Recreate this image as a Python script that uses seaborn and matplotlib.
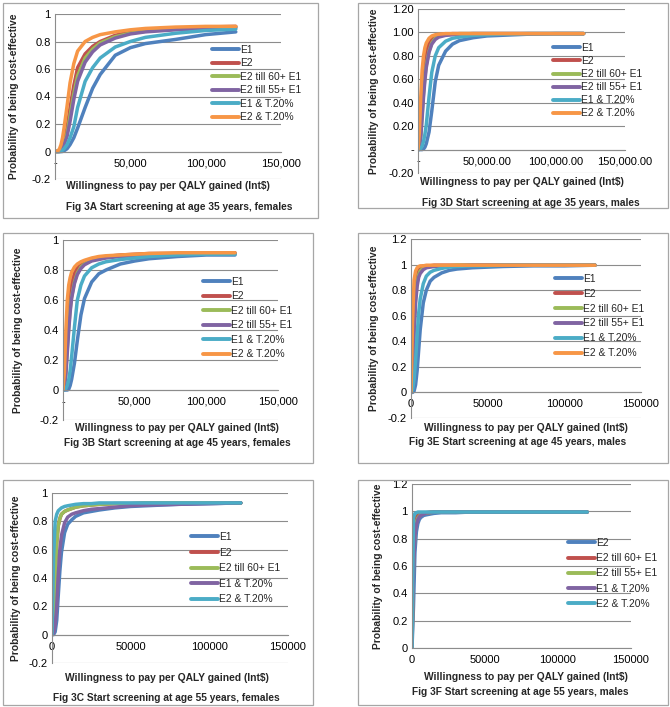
import numpy as np
import pandas as pd
import matplotlib
matplotlib.use("Agg")
import matplotlib.pyplot as plt
import seaborn as sns
from matplotlib.patches import Rectangle

sns.set_style("white")
plt.rcParams["font.family"] = ["Liberation Sans", "DejaVu Sans"]

# ---------------- data ----------------
WTP = [0, 1000, 2000, 3000, 4000, 5000, 6000, 8000, 10000, 12500, 15000,
       20000, 25000, 30000, 40000, 50000, 60000, 80000, 100000, 120000]

NAMES6 = ["E1", "E2", "E2 till 60+ E1", "E2 till 55+ E1", "E1 & T.20%", "E2 & T.20%"]
NAMES_C = ["E1", "E2", "E2 till 60+ E1", "E1 & T.20%", "E2 & T.20%"]
NAMES_F = ["E2", "E2 till 60+ E1", "E2 till 55+ E1", "E1 & T.20%", "E2 & T.20%"]

# Fig 3A  age 35 females
A_E1   = [0, 0, 0, 0, 0, 0, 0.005, 0.02, 0.05, 0.10, 0.17, 0.32, 0.46, 0.56, 0.70, 0.755, 0.785, 0.815, 0.85, 0.87]
A_E2   = [0, 0, 0, 0.005, 0.02, 0.04, 0.08, 0.17, 0.32, 0.48, 0.61, 0.71, 0.765, 0.80, 0.845, 0.87, 0.88, 0.895, 0.905, 0.91]
A_E260 = [0, 0, 0, 0, 0.01, 0.03, 0.06, 0.13, 0.26, 0.42, 0.55, 0.68, 0.745, 0.79, 0.835, 0.86, 0.875, 0.89, 0.90, 0.905]
A_E255 = [0, 0, 0, 0, 0.01, 0.025, 0.05, 0.11, 0.22, 0.38, 0.51, 0.65, 0.725, 0.775, 0.825, 0.855, 0.87, 0.885, 0.895, 0.90]
A_E1T  = [0, 0, 0, 0, 0, 0.01, 0.02, 0.05, 0.10, 0.18, 0.32, 0.51, 0.61, 0.68, 0.76, 0.80, 0.83, 0.86, 0.88, 0.89]
A_E2T  = [0, 0, 0.005, 0.02, 0.05, 0.10, 0.17, 0.33, 0.50, 0.64, 0.73, 0.80, 0.83, 0.85, 0.87, 0.885, 0.895, 0.905, 0.91, 0.91]

# Fig 3D  age 35 males
D_E1   = [0, 0, 0, 0, 0.005, 0.02, 0.05, 0.15, 0.33, 0.58, 0.72, 0.84, 0.90, 0.93, 0.955, 0.97, 0.975, 0.985, 0.99, 0.99]
D_E2   = [0, 0.05, 0.25, 0.48, 0.65, 0.76, 0.83, 0.91, 0.95, 0.97, 0.98, 0.985, 0.99, 0.99, 0.99, 0.99, 0.99, 0.99, 0.99, 0.99]
D_E260 = [0, 0.02, 0.12, 0.30, 0.48, 0.62, 0.72, 0.84, 0.91, 0.95, 0.97, 0.98, 0.985, 0.99, 0.99, 0.99, 0.99, 0.99, 0.99, 0.99]
D_E255 = [0, 0.01, 0.10, 0.27, 0.45, 0.59, 0.70, 0.83, 0.90, 0.94, 0.96, 0.975, 0.98, 0.985, 0.99, 0.99, 0.99, 0.99, 0.99, 0.99]
D_E1T  = [0, 0, 0.01, 0.03, 0.07, 0.13, 0.21, 0.45, 0.66, 0.80, 0.87, 0.925, 0.95, 0.96, 0.975, 0.98, 0.985, 0.99, 0.99, 0.99]
D_E2T  = [0, 0.15, 0.45, 0.68, 0.80, 0.87, 0.91, 0.95, 0.97, 0.98, 0.985, 0.99, 0.99, 0.99, 0.99, 0.99, 0.99, 0.99, 0.99, 0.99]

# Fig 3B  age 45 females
B_E1   = [0, 0, 0, 0, 0.005, 0.03, 0.07, 0.18, 0.33, 0.50, 0.61, 0.72, 0.775, 0.80, 0.84, 0.86, 0.875, 0.89, 0.90, 0.90]
B_E2   = [0, 0.05, 0.22, 0.42, 0.56, 0.65, 0.71, 0.78, 0.815, 0.84, 0.855, 0.875, 0.885, 0.89, 0.90, 0.905, 0.91, 0.91, 0.915, 0.915]
B_E260 = [0, 0.02, 0.12, 0.28, 0.42, 0.54, 0.62, 0.72, 0.78, 0.82, 0.84, 0.865, 0.875, 0.885, 0.895, 0.90, 0.905, 0.91, 0.91, 0.91]
B_E255 = [0, 0.02, 0.10, 0.25, 0.40, 0.52, 0.61, 0.71, 0.77, 0.81, 0.835, 0.86, 0.87, 0.88, 0.89, 0.895, 0.90, 0.905, 0.91, 0.91]
B_E1T  = [0, 0, 0.01, 0.03, 0.07, 0.13, 0.22, 0.42, 0.60, 0.70, 0.76, 0.815, 0.84, 0.855, 0.87, 0.88, 0.89, 0.90, 0.905, 0.905]
B_E2T  = [0, 0.12, 0.40, 0.60, 0.70, 0.75, 0.785, 0.82, 0.84, 0.855, 0.865, 0.88, 0.89, 0.895, 0.90, 0.905, 0.91, 0.915, 0.915, 0.915]

# Fig 3E  age 45 males
E_E1   = [0, 0, 0.01, 0.06, 0.17, 0.33, 0.49, 0.70, 0.80, 0.87, 0.90, 0.935, 0.955, 0.965, 0.975, 0.98, 0.985, 0.99, 0.99, 0.995]
E_E2   = [0, 0.35, 0.75, 0.90, 0.95, 0.97, 0.98, 0.99, 0.99, 0.99, 0.995, 0.995, 0.995, 0.995, 0.995, 0.995, 0.995, 0.995, 0.995, 0.995]
E_E260 = [0, 0.15, 0.50, 0.74, 0.86, 0.92, 0.95, 0.97, 0.98, 0.985, 0.99, 0.99, 0.99, 0.995, 0.995, 0.995, 0.995, 0.995, 0.995, 0.995]
E_E255 = [0, 0.12, 0.45, 0.70, 0.83, 0.90, 0.93, 0.96, 0.975, 0.98, 0.985, 0.99, 0.99, 0.99, 0.995, 0.995, 0.995, 0.995, 0.995, 0.995]
E_E1T  = [0, 0.02, 0.10, 0.25, 0.45, 0.62, 0.73, 0.85, 0.91, 0.94, 0.955, 0.97, 0.98, 0.985, 0.99, 0.99, 0.995, 0.995, 0.995, 0.995]
E_E2T  = [0, 0.55, 0.88, 0.95, 0.975, 0.985, 0.99, 0.99, 0.995, 0.995, 0.995, 0.995, 0.995, 0.995, 0.995, 0.995, 0.995, 0.995, 0.995, 0.995]

# Fig 3C  age 55 females
C_E1   = [0, 0, 0.02, 0.10, 0.28, 0.45, 0.58, 0.72, 0.78, 0.81, 0.835, 0.86, 0.87, 0.88, 0.895, 0.905, 0.91, 0.92, 0.925, 0.93]
C_E2   = [0, 0.10, 0.40, 0.65, 0.77, 0.82, 0.85, 0.87, 0.88, 0.89, 0.90, 0.91, 0.915, 0.92, 0.925, 0.925, 0.93, 0.93, 0.93, 0.93]
C_E260 = [0, 0.10, 0.40, 0.65, 0.77, 0.82, 0.85, 0.87, 0.88, 0.89, 0.90, 0.91, 0.915, 0.92, 0.925, 0.925, 0.93, 0.93, 0.93, 0.93]
C_E1T  = [0, 0.01, 0.06, 0.20, 0.42, 0.60, 0.70, 0.79, 0.83, 0.85, 0.86, 0.875, 0.885, 0.89, 0.90, 0.91, 0.915, 0.92, 0.925, 0.93]
C_E2T  = [0, 0.55, 0.80, 0.85, 0.875, 0.885, 0.895, 0.905, 0.91, 0.915, 0.92, 0.925, 0.925, 0.93, 0.93, 0.93, 0.93, 0.93, 0.93, 0.93]

# Fig 3F  age 55 males
F_E2   = [0, 0.30, 0.70, 0.85, 0.91, 0.94, 0.955, 0.97, 0.975, 0.98, 0.985, 0.99, 0.99, 0.99, 0.995, 0.995, 0.995, 0.995, 0.995, 0.995]
F_E260 = [0, 0.80, 0.93, 0.96, 0.975, 0.98, 0.985, 0.99, 0.99, 0.995, 0.995, 0.995, 0.995, 0.995, 0.995, 0.995, 0.995, 0.995, 0.995, 0.995]
F_E255 = [0, 0.60, 0.85, 0.92, 0.95, 0.965, 0.975, 0.985, 0.99, 0.99, 0.995, 0.995, 0.995, 0.995, 0.995, 0.995, 0.995, 0.995, 0.995, 0.995]
F_E1T  = [0, 0.55, 0.82, 0.90, 0.94, 0.96, 0.97, 0.98, 0.99, 0.99, 0.995, 0.995, 0.995, 0.995, 0.995, 0.995, 0.995, 0.995, 0.995, 0.995]
F_E2T  = [0, 0.95, 0.985, 0.99, 0.995, 0.995, 0.995, 0.995, 0.995, 0.995, 0.995, 0.995, 0.995, 0.995, 0.995, 0.995, 0.995, 0.995, 0.995, 0.995]

# tick labels
X_TICKS = [0, 50000, 100000, 150000]
XL_COMMA = ["-", "50,000", "100,000", "150,000"]
XL_DEC = ["-", "50,000.00", "100,000.00", "150,000.00"]
XL_PLAIN = ["0", "50000", "100000", "150000"]
Y_1 = [-0.2, 0, 0.2, 0.4, 0.6, 0.8, 1.0]
YL_1 = ["-0.2", "0", "0.2", "0.4", "0.6", "0.8", "1"]
Y_12 = [-0.2, 0, 0.2, 0.4, 0.6, 0.8, 1.0, 1.2]
YL_12 = ["-0.2", "0", "0.2", "0.4", "0.6", "0.8", "1", "1.2"]
YL_12D = ["-0.20", "-", "0.20", "0.40", "0.60", "0.80", "1.00", "1.20"]
Y_F = [0, 0.2, 0.4, 0.6, 0.8, 1.0, 1.2]
YL_F = ["0", "0.2", "0.4", "0.6", "0.8", "1", "1.2"]

CAPTIONS = ["Fig 3A Start screening at age 35 years, females",
            "Fig 3D Start screening at age 35 years, males",
            "Fig 3B Start screening at age 45 years, females",
            "Fig 3E Start screening at age 45 years, males",
            "Fig 3C Start screening at age 55 years, females",
            "Fig 3F Start screening at age 55 years, males"]

XLABEL = "Willingness to pay per QALY gained (Int$)"
YLABEL = "Probability of being cost-effective"

BLUE, RED, GREEN, PURPLE, CYAN, ORANGE = "#4F81BD", "#C0504D", "#9BBB59", "#8064A2", "#4BACC6", "#F79646"
COL6 = [BLUE, RED, GREEN, PURPLE, CYAN, ORANGE]
COL5 = [BLUE, RED, GREEN, PURPLE, CYAN]

# ---------------- layout (pixels) ----------------
W, H = 670, 707
fig = plt.figure(figsize=(6.7, 7.07), dpi=100)
fig.patch.set_facecolor("white")

def fx(px):
    return px / W

def fy(py):
    return 1 - py / H

GRAY = "#8C8C8C"
FS_TICK = 8.0
FS_LEG = 7.4
FS_LAB = 7.4
FS_CAP = 7.3

panels = [
    dict(names=NAMES6, cols=COL6, series=[A_E1, A_E2, A_E260, A_E255, A_E1T, A_E2T],
         ax=(55, 14, 281, 179), ylim=(-0.2, 1.0), yt=Y_1, ytl=YL_1, xtl=XL_COMMA,
         leg=(212, 45), ls=0.34, ylx=14, xl=(168, 186), cap=(179, 207), box=(3, 3, 318, 218)),
    dict(names=NAMES6, cols=COL6, series=[D_E1, D_E2, D_E260, D_E255, D_E1T, D_E2T],
         ax=(418, 9, 625, 173), ylim=(-0.2, 1.2), yt=Y_12, ytl=YL_12D, xtl=XL_DEC,
         leg=(553, 43), ls=0.30, ylx=374, xl=(522, 182), cap=(531, 203), box=(358, 3, 668, 208)),
    dict(names=NAMES6, cols=COL6, series=[B_E1, B_E2, B_E260, B_E255, B_E1T, B_E2T],
         ax=(63, 240, 278, 420), ylim=(-0.2, 1.0), yt=Y_1, ytl=YL_1, xtl=XL_COMMA,
         leg=(203, 277), ls=0.43, ylx=18, xl=(177, 428), cap=(177, 443), box=(3, 233, 313, 463)),
    dict(names=NAMES6, cols=COL6, series=[E_E1, E_E2, E_E260, E_E255, E_E1T, E_E2T],
         ax=(411, 239, 641, 418), ylim=(-0.2, 1.2), yt=Y_12, ytl=YL_12, xtl=XL_PLAIN,
         leg=(555, 274), ls=0.47, ylx=374, xl=(526, 428), cap=(518, 442), box=(358, 233, 668, 463)),
    dict(names=NAMES_C, cols=COL5, series=[C_E1, C_E2, C_E260, C_E1T, C_E2T],
         ax=(52, 493, 288, 663), ylim=(-0.2, 1.0), yt=Y_1, ytl=YL_1, xtl=XL_PLAIN,
         leg=(191, 532), ls=0.54, ylx=16, xl=(167, 678), cap=(166, 698), box=(3, 480, 313, 705)),
    dict(names=NAMES_F, cols=COL5, series=[F_E2, F_E260, F_E255, F_E1T, F_E2T],
         ax=(412, 484, 631, 648), ylim=(0, 1.2), yt=Y_F, ytl=YL_F, xtl=XL_PLAIN,
         leg=(568, 538), ls=0.51, ylx=378, xl=(526, 677), cap=(520, 692), box=(358, 480, 668, 705)),
]

for i, p in enumerate(panels):
    l, t, r, b = p["ax"]
    ax = fig.add_axes([fx(l), fy(b), (r - l) / W, (b - t) / H])
    rows = []
    for name, vals in zip(p["names"], p["series"]):
        for x, y in zip(WTP, vals):
            rows.append((name, x, y))
    df = pd.DataFrame(rows, columns=["strategy", "wtp", "prob"])
    sns.lineplot(data=df, x="wtp", y="prob", hue="strategy", hue_order=p["names"],
                 palette=dict(zip(p["names"], p["cols"])), linewidth=2.5,
                 estimator=None, sort=False, ax=ax, legend=True)
    for ln in ax.get_lines():
        ln.set_solid_capstyle("round")
        ln.set_solid_joinstyle("round")
    ax.set_xlim(0, 150000)
    ax.set_ylim(*p["ylim"])
    ax.set_xticks(X_TICKS)
    ax.set_xticklabels(p["xtl"])
    ax.set_yticks(p["yt"])
    ax.set_yticklabels(p["ytl"])
    ax.set_xlabel("")
    ax.set_ylabel("")
    ax.yaxis.grid(True, color=GRAY, linewidth=0.8)
    ax.xaxis.grid(False)
    ax.set_axisbelow(True)
    for s in ("top", "right"):
        ax.spines[s].set_visible(False)
    ax.spines["left"].set_color(GRAY)
    ax.spines["left"].set_linewidth(0.8)
    ax.spines["bottom"].set_color(GRAY)
    ax.spines["bottom"].set_linewidth(0.8)
    ax.spines["bottom"].set_position(("data", 0))
    ax.tick_params(axis="x", length=2.5, width=0.8, color=GRAY, direction="out",
                   labelsize=FS_TICK, pad=2.5, labelcolor="black")
    ax.tick_params(axis="y", length=0, labelsize=FS_TICK, pad=3, labelcolor="black")

    handles, labels = ax.get_legend_handles_labels()
    leg = ax.legend(handles, labels, loc="upper left",
                    bbox_to_anchor=(fx(p["leg"][0]), fy(p["leg"][1])),
                    bbox_transform=fig.transFigure, frameon=False, fontsize=FS_LEG,
                    handlelength=2.6, handletextpad=0.15, labelspacing=p["ls"],
                    borderpad=0, borderaxespad=0)
    for h in leg.get_lines():
        h.set_linewidth(2.8)

    fig.text(fx(p["ylx"]), fy((t + b) / 2), YLABEL, rotation=90, ha="center",
             va="center", fontsize=FS_LAB, fontweight="bold")
    fig.text(fx(p["xl"][0]), fy(p["xl"][1]), XLABEL, ha="center", va="center",
             fontsize=FS_LAB, fontweight="bold")
    fig.text(fx(p["cap"][0]), fy(p["cap"][1]), CAPTIONS[i], ha="center", va="center",
             fontsize=FS_CAP, fontweight="bold")

    bl, bt, br, bb = p["box"]
    fig.add_artist(Rectangle((fx(bl), fy(bb)), (br - bl) / W, (bb - bt) / H,
                             transform=fig.transFigure, fill=False,
                             edgecolor="#A6A6A6", linewidth=0.9))

fig.savefig("out.png", dpi=100, facecolor="white")
